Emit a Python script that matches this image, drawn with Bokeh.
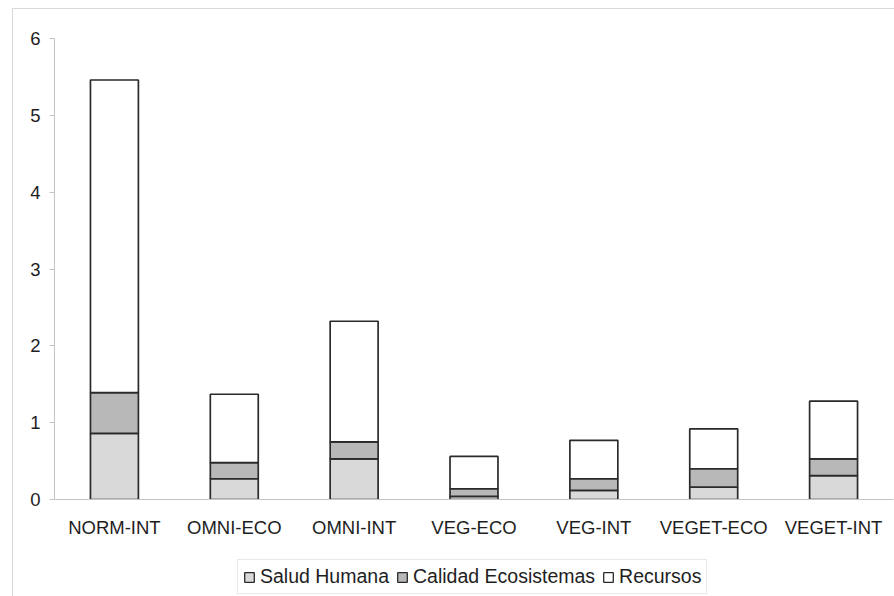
from bokeh.plotting import figure
from bokeh.models import ColumnDataSource, Legend, LegendItem, Range1d, FixedTicker
from bokeh.layouts import column
from bokeh.embed import file_html
from bokeh.resources import INLINE

categories = ["NORM-INT", "OMNI-ECO", "OMNI-INT", "VEG-ECO", "VEG-INT", "VEGET-ECO", "VEGET-INT"]
salud_humana = [0.86, 0.27, 0.53, 0.04, 0.12, 0.16, 0.31]
calidad_ecosistemas = [0.53, 0.21, 0.22, 0.10, 0.15, 0.24, 0.22]
recursos = [4.07, 0.89, 1.57, 0.42, 0.50, 0.52, 0.75]
series_names = ["Salud Humana", "Calidad Ecosistemas", "Recursos"]
y_ticks = [0, 1, 2, 3, 4, 5, 6]

colors = ["#d9d9d9", "#b8b8b8", "#ffffff"]
FONT = "Liberation Sans"
TEXT = "#1e1e1e"
OUTLINE = "#2a2a2a"

source = ColumnDataSource(dict(cat=categories, s=salud_humana, c=calidad_ecosistemas, r=recursos))

p = figure(x_range=categories, y_range=Range1d(0, 6), width=881, height=540,
           output_backend="svg", toolbar_location=None,
           min_border_left=41, min_border_right=1, min_border_top=29, min_border_bottom=50)
p.outline_line_color = None
p.grid.visible = False
p.background_fill_color = "white"
p.border_fill_color = "white"

p.vbar_stack(["s", "c", "r"], x="cat", width=0.4, source=source,
             fill_color=colors, line_color=OUTLINE, line_width=1.7)

p.yaxis.ticker = FixedTicker(ticks=y_ticks)
for ax in (p.xaxis[0], p.yaxis[0]):
    ax.axis_line_color = "#c4c4c4"
    ax.major_tick_line_color = "#c4c4c4"
    ax.minor_tick_line_color = None
    ax.major_label_text_font = FONT
    ax.major_label_text_font_size = "18.5px"
    ax.major_label_text_color = TEXT
p.yaxis.major_tick_in = 0
p.yaxis.major_tick_out = 5
p.yaxis.major_label_standoff = 9
p.xaxis.major_tick_line_color = None
p.xaxis.major_tick_in = 0
p.xaxis.major_tick_out = 0
p.xaxis.major_label_standoff = 17

# legend strip below the chart: its renderers are hidden, only the legend is shown
lp = figure(x_range=categories, y_range=Range1d(50, 51), width=881, height=47,
            output_backend="svg", toolbar_location=None,
            x_axis_location=None, y_axis_location=None,
            min_border_left=0, min_border_right=0, min_border_top=0, min_border_bottom=0)
lp.outline_line_color = None
lp.grid.visible = False
lp.border_fill_color = "white"
legend_renderers = lp.vbar_stack(["s", "c", "r"], x="cat", width=0.4, source=source,
                                 fill_color=colors, line_color=OUTLINE, line_width=1.3)
for r in legend_renderers:
    r.visible = False

legend = Legend(items=[LegendItem(label=n, renderers=[r]) for n, r in zip(series_names, legend_renderers)],
                orientation="horizontal", location=(183, 2))
legend.label_text_font = FONT
legend.label_text_font_size = "19.5px"
legend.label_text_color = TEXT
legend.glyph_width = 12
legend.glyph_height = 12
legend.label_standoff = 5
legend.spacing = 7
legend.padding = 5
legend.margin = 0
legend.inactive_fill_alpha = 0
legend.border_line_color = "#d4d4d4"
legend.border_line_width = 1
legend.background_fill_color = "white"
lp.add_layout(legend, "center")

layout = column(p, lp, spacing=0)
layout.margin = (8, 0, 0, 12)
layout.styles = {"border-top": "1px solid #d8d8d8", "border-left": "1px solid #d8d8d8"}

open("out.html", "w").write(file_html(layout, INLINE))
